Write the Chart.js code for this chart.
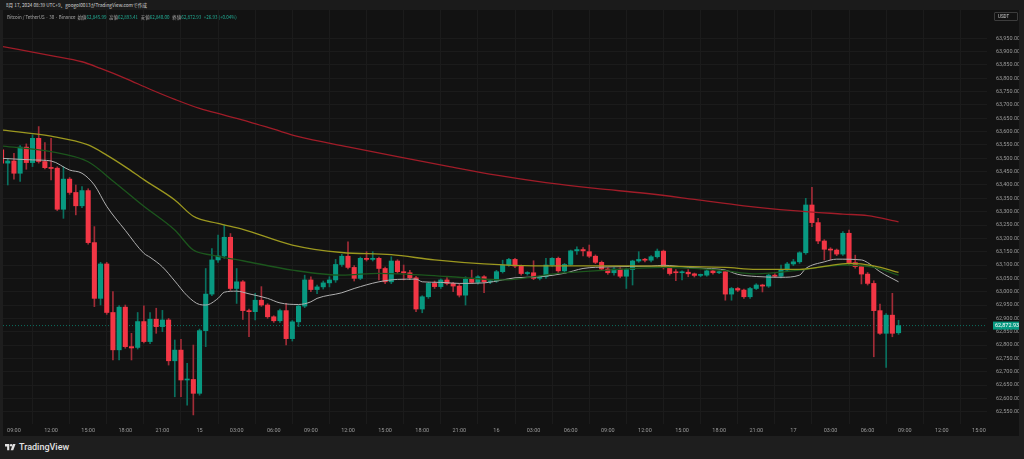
<!DOCTYPE html>
<html lang="ja">
<head>
  <meta charset="UTF-8" />
  <title>Bitcoin / TetherUS 30 – Binance</title>
  <script src="https://cdn.jsdelivr.net/npm/chart.js"></script>
  <style>
    html, body { margin: 0; padding: 0; }
    body {
      width: 1024px; height: 459px; overflow: hidden; position: relative;
      background: #1e1e1e;
      font-family: 'Noto Sans CJK JP', 'Noto Sans', sans-serif;
    }
    .topbar {
      position: absolute; left: 0; top: 0; width: 1024px; height: 10px;
      background: #1b1b1b;
    }
    .fit { position: absolute; white-space: nowrap; transform-origin: 0 50%; }
    #stamp { left: 6px; top: 2px; font-size: 5px; line-height: 6px; color: #d4d4d4; }
    .pane {
      position: absolute; left: 3px; top: 10px; width: 1016px; height: 426px;
      background: #121212;
    }
    #legend { left: 7px; top: 13px; font-size: 5px; line-height: 7px; color: #a8a8a8; }
    #legend span { color: #22ab94; margin-right: 3px; }
    .unit {
      position: absolute; left: 994px; top: 12px; width: 24px; height: 9px;
      border: 1px solid #3c3c3c; box-sizing: border-box; border-radius: 1px;
      color: #cfcfcf; font-size: 4.5px; line-height: 7px; padding-left: 3px;
      font-family: Roboto, sans-serif;
    }
    .brand {
      position: absolute; left: 5px; top: 441px; height: 11px;
      display: flex; align-items: center; gap: 3px;
      color: #e2e2e2; font-family: Roboto, sans-serif; font-size: 9px; font-weight: 500;
    }
  </style>
</head>
<body>

  <div class="topbar"></div>
  <div class="fit" id="stamp">8月 17, 2024 08:39 UTC+9、googol0013がTradingView.comで作成</div>

  <div class="pane">
    <canvas id="chart" width="1016" height="426"></canvas>
  </div>

  <div class="fit" id="legend">Bitcoin / TetherUS · 30 · Binance&nbsp;&nbsp;始値<span>62,845.99</span>高値<span>62,893.41</span>安値<span>62,840.00</span>終値<span>62,872.93</span><span>+26.93 (+0.04%)</span></div>
  <div class="unit">USDT</div>

  <div class="brand">
    <svg width="11" height="8" viewBox="0 0 36 26"><path d="M14 24H7V11H0V3h14v21z" fill="#e2e2e2"/><circle cx="20" cy="7" r="4" fill="#e2e2e2"/><path d="M27 24h-8.5L26 3h8.5L27 24z" fill="#e2e2e2"/></svg>
    TradingView
  </div>

  <script>
    // 30-minute candles, slot 0 = Aug 14 08:00 (UTC+9)
    const opens = [
      63532, 63482, 63490, 63444, 63542, 63484, 63575, 63488, 63465, 63463,
      63309, 63422, 63372, 63322, 63379, 63184, 62975, 63104, 62922, 62782,
      62942, 62794, 62791, 62888, 62813, 62897, 62869, 62894, 62741, 62781,
      62669, 62671, 62619, 62854, 62991, 63119, 63134, 63204, 63012, 63037,
      62929, 62925, 62968, 62950, 62906, 62891, 62929, 62824, 62887, 62946,
      63044, 63008, 63018, 63033, 63044, 63102, 63133, 63091, 63050, 63125,
      63121, 63125, 63087, 63037, 63115, 63075, 63071, 63052, 62935, 62981,
      63031, 63019, 63044, 63031, 63021, 62987, 63047, 63035, 63056, 63037,
      63040, 63075, 63100, 63121, 63096, 63068, 63071, 63050, 63056, 63100,
      63125, 63078, 63102, 63153, 63158, 63150, 63133, 63110, 63085, 63071,
      63085, 63058, 63083, 63115, 63121, 63118, 63131, 63152, 63090, 63073,
      63071, 63073, 63067, 63061, 63062, 63078, 63071, 63075, 62991, 63012,
      63006, 62981, 63012, 63025, 63021, 63062, 63058, 63081, 63104, 63112,
      63146, 63325, 63259, 63190, 63159, 63156, 63141, 63219, 63109, 63094,
      63066, 63031, 62929, 62844, 62912, 62846
    ];
    const highs = [
      63545, 63500, 63519, 63548, 63554, 63588, 63619, 63559, 63575, 63468,
      63469, 63428, 63400, 63394, 63386, 63244, 63110, 63110, 63000, 62948,
      62950, 62844, 62922, 62947, 62922, 62938, 62930, 62900, 62819, 62821,
      62731, 62800, 62860, 63087, 63162, 63212, 63250, 63218, 63087, 63042,
      62935, 62994, 63019, 62955, 62910, 62935, 62956, 62892, 62950, 63062,
      63056, 63025, 63040, 63056, 63121, 63140, 63187, 63098, 63130, 63150,
      63150, 63130, 63092, 63131, 63120, 63100, 63080, 63058, 62985, 63035,
      63040, 63048, 63053, 63035, 63030, 63056, 63081, 63060, 63060, 63045,
      63080, 63118, 63125, 63125, 63100, 63075, 63116, 63060, 63125, 63128,
      63130, 63106, 63156, 63168, 63165, 63175, 63138, 63115, 63090, 63090,
      63090, 63088, 63118, 63150, 63125, 63135, 63160, 63156, 63095, 63083,
      63078, 63083, 63070, 63066, 63082, 63082, 63078, 63080, 63016, 63016,
      63010, 63016, 63030, 63028, 63066, 63068, 63100, 63110, 63121, 63150,
      63350, 63391, 63275, 63195, 63165, 63160, 63225, 63231, 63137, 63100,
      63072, 63041, 62954, 62918, 62994, 62893
    ];
    const lows = [
      63475, 63400, 63422, 63413, 63459, 63469, 63482, 63460, 63419, 63304,
      63275, 63365, 63288, 63315, 63178, 62944, 62950, 62915, 62744, 62744,
      62788, 62744, 62785, 62808, 62805, 62844, 62850, 62725, 62606, 62606,
      62575, 62538, 62612, 62794, 62985, 63110, 63125, 63005, 62956, 62896,
      62831, 62894, 62945, 62900, 62885, 62885, 62800, 62815, 62869, 62940,
      63000, 62993, 63010, 63018, 63035, 63095, 63085, 63040, 63045, 63115,
      63115, 63044, 63030, 63030, 63068, 63044, 63045, 62925, 62921, 62975,
      63012, 63012, 63025, 63000, 62980, 62950, 63030, 63028, 62996, 63030,
      63035, 63070, 63095, 63090, 63062, 63062, 63045, 63044, 63050, 63095,
      63072, 63070, 63098, 63140, 63134, 63128, 63105, 63080, 63065, 63062,
      63052, 63012, 63025, 63110, 63112, 63112, 63126, 63085, 63062, 63041,
      63044, 63056, 63055, 63056, 63058, 63066, 63068, 62968, 62968, 63000,
      62975, 62975, 63008, 62999, 63016, 63054, 63052, 63076, 63098, 63106,
      63140, 63244, 63180, 63119, 63119, 63135, 63136, 63100, 63088, 63029,
      63025, 62756, 62840, 62716, 62831, 62840
    ];
    const closes = [
      63482, 63490, 63444, 63542, 63484, 63575, 63488, 63465, 63462, 63309,
      63422, 63372, 63322, 63379, 63184, 62975, 63104, 62922, 62782, 62942,
      62794, 62789, 62888, 62813, 62897, 62869, 62894, 62741, 62781, 62669,
      62671, 62619, 62854, 62991, 63119, 63134, 63204, 63012, 63037, 62929,
      62925, 62968, 62950, 62906, 62891, 62929, 62824, 62887, 62946, 63044,
      63008, 63018, 63033, 63044, 63102, 63133, 63091, 63050, 63125, 63121,
      63125, 63087, 63037, 63115, 63075, 63071, 63052, 62935, 62981, 63031,
      63019, 63044, 63031, 63021, 62987, 63047, 63035, 63056, 63037, 63040,
      63075, 63100, 63121, 63096, 63068, 63071, 63050, 63056, 63100, 63125,
      63078, 63102, 63153, 63158, 63153, 63133, 63110, 63085, 63071, 63085,
      63058, 63083, 63115, 63121, 63118, 63131, 63152, 63090, 63068, 63071,
      63073, 63067, 63061, 63062, 63078, 63071, 63075, 62991, 63012, 63006,
      62981, 63012, 63025, 63021, 63062, 63058, 63081, 63104, 63112, 63146,
      63325, 63259, 63190, 63159, 63156, 63141, 63219, 63109, 63094, 63066,
      63031, 62929, 62844, 62912, 62844, 62872.93
    ];

    // moving averages: [slot, price]
    const maRed = [
      [0, 63920], [8, 63885], [13, 63862], [16, 63837], [20, 63800], [24, 63759],
      [28, 63721], [32, 63687], [36, 63662], [40, 63637], [44, 63609], [48, 63581],
      [56, 63543], [64, 63506], [72, 63471], [80, 63437], [88, 63409], [96, 63387],
      [104, 63369], [112, 63346], [120, 63322], [128, 63304], [136, 63291],
      [140, 63285], [145, 63262]
    ];
    const maYellow = [
      [0, 63606], [8, 63583], [14, 63550], [17, 63512], [20, 63468], [23, 63420],
      [28, 63344], [31, 63283], [35, 63256], [39, 63234], [47, 63175], [55, 63147],
      [63, 63139], [70, 63119], [78, 63104], [86, 63097], [102, 63097], [117, 63091],
      [122, 63084], [129, 63084], [133, 63095], [137, 63106], [141, 63097], [145, 63072]
    ];
    const maGreen = [
      [0, 63546], [8, 63525], [14, 63487], [18, 63415], [23, 63320], [28, 63231],
      [31, 63156], [34, 63137], [39, 63116], [47, 63081], [55, 63062], [61, 63069],
      [72, 63057], [81, 63044], [90, 63069], [98, 63081], [107, 63091], [116, 63081],
      [122, 63067], [129, 63081], [136, 63100], [141, 63091], [145, 63062]
    ];
    const maWhite = [
      [0, 63500], [5, 63494], [8, 63490], [11, 63456], [13, 63444], [15, 63400],
      [17, 63320], [20, 63230], [23, 63144], [24, 63129], [26, 63093], [28, 63040],
      [30, 62985], [32, 62952], [33, 62950], [35, 62975], [36, 62998], [38, 63002],
      [40, 62992], [43, 62975], [45, 62958], [48, 62952], [50, 62962], [51, 62975],
      [55, 62996], [57, 63012], [61, 63037], [64, 63046], [67, 63047], [68, 63037],
      [71, 63035], [74, 63031], [78, 63033], [81, 63044], [83, 63052], [87, 63056],
      [91, 63069], [94, 63087], [98, 63093], [105, 63096], [107, 63099], [111, 63091],
      [114, 63087], [117, 63081], [119, 63065], [122, 63057], [126, 63054], [129, 63062],
      [130, 63087], [133, 63112], [135, 63122], [139, 63119], [140, 63109], [142, 63075],
      [145, 63037]
    ];

    const timeTickSlots = [2, 8, 14, 20, 26, 32, 38, 44, 50, 56, 62, 68, 74, 80,
      86, 92, 98, 104, 110, 116, 122, 128, 134, 140, 146, 152, 158];
    const timeTickLabels = ['09:00', '12:00', '15:00', '18:00', '21:00', '15', '03:00',
      '06:00', '09:00', '12:00', '15:00', '18:00', '21:00', '16', '03:00', '06:00',
      '09:00', '12:00', '15:00', '18:00', '21:00', '17', '03:00', '06:00', '09:00',
      '12:00', '15:00'];
    const priceTicks = [62550, 62600, 62650, 62700, 62750, 62800, 62850, 62900, 62950,
      63000, 63050, 63100, 63150, 63200, 63250, 63300, 63350, 63400, 63450, 63500,
      63550, 63600, 63650, 63700, 63750, 63800, 63850, 63900, 63950];

    const UP = '#089981', DOWN = '#f23645';
    const lastClose = closes[closes.length - 1];
    const xMin = 0.23, xMax = 159.3;

    const isUp = closes.map((c, i) => c >= opens[i]);
    const toPts = arr => arr.map(p => ({ x: p[0], y: p[1] }));

    const fmt = v => v.toLocaleString('en-US', { minimumFractionDigits: 2, maximumFractionDigits: 2 });

    // squeeze the header texts to the width they take in the screenshot
    function fitWidth(id, w) {
      const el = document.getElementById(id);
      el.style.transform = 'scaleX(' + (w / el.scrollWidth) + ')';
    }
    fitWidth('stamp', 141);
    fitWidth('legend', 233);

    // price tag on the right axis for the last close
    const lastPriceTag = {
      id: 'lastPriceTag',
      afterDraw(chart) {
        const { ctx, chartArea, scales } = chart;
        const y = scales.y.getPixelForValue(lastClose);
        ctx.save();
        ctx.fillStyle = UP;
        ctx.fillRect(chartArea.right + 6, y - 4, 26, 8);
        ctx.fillStyle = '#ffffff';
        ctx.font = '5.5px Roboto';
        ctx.textBaseline = 'middle';
        ctx.fillText(fmt(lastClose), chartArea.right + 8, y + 0.5);
        ctx.restore();
      }
    };

    const lineStyle = { type: 'line', order: 0, pointRadius: 0, pointHoverRadius: 0,
      cubicInterpolationMode: 'monotone' };

    new Chart(document.getElementById('chart'), {
      type: 'bar',
      data: {
        datasets: [
          { ...lineStyle, label: 'MA 200', data: toPts(maRed), borderColor: '#a01c28', borderWidth: 1.3 },
          { ...lineStyle, label: 'MA 50', data: toPts(maYellow), borderColor: '#9c981f', borderWidth: 1.3 },
          { ...lineStyle, label: 'MA 30', data: toPts(maGreen), borderColor: '#1c561d', borderWidth: 1.3 },
          { ...lineStyle, label: 'MA 10', data: toPts(maWhite), borderColor: '#b0b0b0', borderWidth: 1 },
          {
            label: 'body', order: 1, grouped: false,
            data: opens.map((o, i) => ({ x: i, y: [o, closes[i]] })),
            backgroundColor: isUp.map(u => u ? UP : DOWN),
            barThickness: 4.4, minBarLength: 1
          },
          {
            label: 'wick', order: 2, grouped: false,
            data: lows.map((l, i) => ({ x: i, y: [l, highs[i]] })),
            backgroundColor: isUp.map(u => u ? '#09705f' : '#a22c37'),
            barThickness: 1
          },
          {
            ...lineStyle, label: 'last', order: 3,
            data: [{ x: xMin, y: lastClose }, { x: xMax, y: lastClose }],
            borderColor: 'rgba(8,153,129,0.7)', borderWidth: 1, borderDash: [1, 2]
          }
        ]
      },
      options: {
        responsive: false,
        animation: false,
        events: [],
        layout: { autoPadding: false, padding: 0 },
        plugins: { legend: { display: false }, tooltip: { enabled: false } },
        scales: {
          x: {
            type: 'linear', min: xMin, max: xMax, offset: false,
            afterBuildTicks: s => { s.ticks = timeTickSlots.map(v => ({ value: v })); },
            afterFit: s => { s.height = 12; s.paddingLeft = 0; s.paddingRight = 0; },
            grid: { color: '#1b1b1b', drawTicks: false },
            border: { display: false },
            ticks: {
              autoSkip: false, maxRotation: 0, padding: 3,
              color: '#9a9a9a', font: { size: 5.5, family: 'Roboto' },
              callback: (v, i) => timeTickLabels[i]
            }
          },
          y: {
            position: 'right', min: 62504, max: 64056,
            afterBuildTicks: s => { s.ticks = priceTicks.map(v => ({ value: v })); },
            afterFit: s => { s.width = 32; s.paddingTop = 0; s.paddingBottom = 0; },
            grid: { color: '#1b1b1b', drawTicks: false },
            border: { display: false },
            ticks: {
              padding: 9, color: '#9a9a9a', font: { size: 5.5, family: 'Roboto' },
              callback: v => fmt(v)
            }
          }
        }
      },
      plugins: [lastPriceTag]
    });
  </script>
</body>
</html>
